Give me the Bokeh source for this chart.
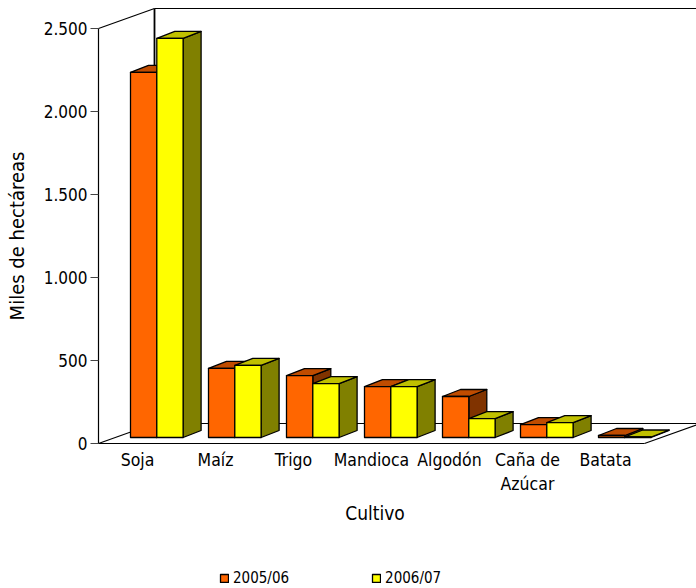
from bokeh.plotting import figure
from bokeh.models import Range1d, FixedTicker, Legend, LegendItem
from bokeh.embed import file_html
from bokeh.resources import INLINE

categories = ["Soja", "Maíz", "Trigo", "Mandioca", "Algodón", "Caña de\nAzúcar", "Batata"]
series_names = ["2005/06", "2006/07"]
area_2005 = [2200, 416, 373, 307, 247, 78, 12]
area_2006 = [2404, 434, 325, 307, 114, 90, 3]
y_ticks = [0, 500, 1000, 1500, 2000, 2500]
y_tick_labels = ["0", "500", "1.000", "1.500", "2.000", "2.500"]

FONT = "DejaVu Sans Condensed"
PX_X = 78              # pixels per category
PX_Y = 415 / 2500      # pixels per value unit
WALL_DX, WALL_DY = 56 / PX_X, 20 / PX_Y
BAR_DX, BAR_DY = 18 / PX_X, 7 / PX_Y
BASE = 6 / PX_Y
START, BAR_W = 32 / PX_X, 26.3 / PX_X

W, H = 696, 588
LEFT, ZERO = 98, 443
X_END = (W - LEFT) / PX_X
p = figure(width=W, height=H, output_backend="svg", toolbar_location=None,
           x_range=Range1d(-LEFT / PX_X, X_END), y_range=Range1d(-(H - ZERO) / PX_Y, ZERO / PX_Y),
           min_border=0)
p.outline_line_color = None
p.xgrid.visible = False
p.ygrid.visible = False
p.background_fill_color = None
p.border_fill_color = "white"

# walls and floor
n = len(categories)
top = 2500
wall_color = "#000000"
p.line([0, WALL_DX], [top, top + WALL_DY], line_color=wall_color, line_width=1.2)
p.line([WALL_DX, WALL_DX], [WALL_DY, top + WALL_DY], line_color=wall_color, line_width=1.8)
p.line([WALL_DX, X_END], [top + WALL_DY, top + WALL_DY], line_color=wall_color, line_width=1.2)
p.line([0, WALL_DX], [0, WALL_DY], line_color=wall_color, line_width=1.2)
p.line([WALL_DX, X_END], [WALL_DY, WALL_DY], line_color=wall_color, line_width=1.2)
p.line([n, n + WALL_DX], [0, WALL_DY], line_color=wall_color, line_width=1.2)
p.line([0, n], [0, 0], line_color=wall_color, line_width=1.2)

# bars
bar_line = dict(line_color="black", line_width=1.3, line_join="round")
renderers = []
colours = [("#FF6600", "#C04C00", "#803300"), ("#FFFF00", "#C0C000", "#808000")]
for s, (values, (front_c, top_c, side_c)) in enumerate(zip([area_2005, area_2006], colours)):
    fx, fy, tx, ty, sx, sy = [], [], [], [], [], []
    for i, v in enumerate(values):
        x0 = i + START + s * BAR_W
        x1 = x0 + BAR_W
        y0 = BASE
        y1 = BASE + v
        fx.append([x0, x1, x1, x0]); fy.append([y0, y0, y1, y1])
        tx.append([x0, x1, x1 + BAR_DX, x0 + BAR_DX]); ty.append([y1, y1, y1 + BAR_DY, y1 + BAR_DY])
        sx.append([x1, x1 + BAR_DX, x1 + BAR_DX, x1]); sy.append([y0, y0 + BAR_DY, y1 + BAR_DY, y1])
    p.patches(sx, sy, fill_color=side_c, **bar_line)
    p.patches(tx, ty, fill_color=top_c, **bar_line)
    renderers.append(p.patches(fx, fy, fill_color=front_c, **bar_line))

# axes
ax = p.yaxis[0]
ax.fixed_location = 0
ax.ticker = FixedTicker(ticks=y_ticks)
ax.major_label_overrides = dict(zip(y_ticks, y_tick_labels))
ax.bounds = (0, 2500)
ax.axis_line_color = "black"
ax.axis_line_width = 1.2
ax.major_tick_line_color = "#444444"
ax.major_tick_line_width = 1.2
ax.major_tick_in = 0
ax.major_tick_out = 8
ax.minor_tick_line_color = None
ax.major_label_text_font = FONT
ax.major_label_text_font_size = "17px"
ax.major_label_text_color = "black"
ax.major_label_standoff = 3
ax.axis_label = "Miles de hectáreas"
ax.axis_label_text_font = FONT
ax.axis_label_text_font_size = "20px"
ax.axis_label_text_font_style = "normal"
ax.axis_label_text_color = "black"
ax.axis_label_standoff = 12

bx = p.xaxis[0]
bx.fixed_location = 0
centers = [i + 0.5 for i in range(n)]
bx.ticker = FixedTicker(ticks=centers)
bx.major_label_overrides = dict(zip(centers, categories))
bx.bounds = (0, n + 0.09)
bx.axis_line_color = None
bx.major_tick_line_color = None
bx.minor_tick_line_color = None
bx.major_tick_in = 0
bx.major_tick_out = 0
bx.major_label_text_font = FONT
bx.major_label_text_font_size = "17.5px"
bx.major_label_text_color = "black"
bx.major_label_standoff = 6
bx.axis_label = "Cultivo"
bx.axis_label_text_font = FONT
bx.axis_label_text_font_size = "19px"
bx.axis_label_text_font_style = "normal"
bx.axis_label_text_color = "black"
bx.axis_label_standoff = 5

legend = Legend(items=[LegendItem(label=series_names[i], renderers=[renderers[i]]) for i in range(2)],
                orientation="horizontal", location=(219, 1), glyph_width=10, glyph_height=10,
                label_standoff=4, spacing=82, padding=0, margin=0, background_fill_alpha=0,
                border_line_color=None, label_text_font=FONT, label_text_font_size="15px",
                label_text_color="black", label_height=12)
p.add_layout(legend, "center")

open("out.html", "w").write(file_html(p, INLINE))
